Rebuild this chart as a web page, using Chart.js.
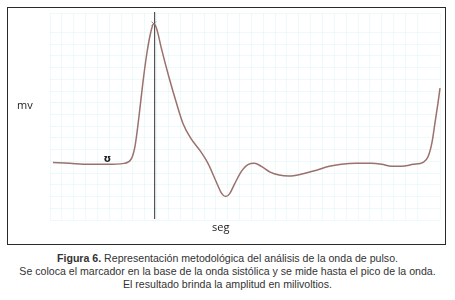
<!DOCTYPE html>
<html>
<head>
<meta charset="utf-8">
<script src="https://cdn.jsdelivr.net/npm/chart.js@4"></script>
<style>
    body { margin: 0; background: #fff; width: 455px; height: 300px; position: relative; overflow: hidden; }
    #box { position: absolute; left: 7px; top: 7px; width: 437px; height: 236px; border: 1px solid #2a2a2a; }
    #box canvas { display: block; }
    .lbl { position: absolute; font-family: 'Open Sans', 'DejaVu Sans', sans-serif; font-size: 11px; color: #222; }
    #caption { position: absolute; left: 0; top: 252px; width: 455px; text-align: center;
               font-family: 'Liberation Sans', Arial, sans-serif; font-size: 10.6px; line-height: 13px; color: #333; }
</style>
</head>
<body>
<div id="box"><canvas id="pulseChart" width="437" height="236"></canvas></div>
<div class="lbl" style="left:17px; top:97px;">mv</div>
<div class="lbl" style="left:212px; top:219px;">seg</div>
<div id="caption">
    <b>Figura 6.</b> Representación metodológica del análisis de la onda de pulso.<br>
    Se coloca el marcador en la base de la onda sistólica y se mide hasta el pico de la onda.<br>
    El resultado brinda la amplitud en milivoltios.
</div>
<script>
// Onda de pulso (tiempo, amplitud)
const TIME = [3, 20, 40, 58, 75, 82, 86, 90, 94, 98, 102, 105, 108, 113, 120, 128, 135, 143, 152, 160,
              168, 174, 178, 182, 187, 194, 201, 207, 214, 223, 232, 242, 255, 270, 283, 295, 310, 325, 336,
              346, 356, 368, 378, 383, 387, 390, 393, 395];
const AMPLITUDE = [59, 58, 57, 57, 58, 62, 75, 105, 140, 170, 192, 201, 196, 175, 148, 120, 98, 83, 71, 58,
                   40, 27, 24, 27, 37, 50, 57, 58, 55, 49, 46, 45, 47, 51, 55, 57, 58, 58, 57,
                   55, 55, 57, 59, 65, 80, 100, 120, 135];

// Marcador en la base, pico y cursor vertical
const MARKER = { x: 58, y: 62 };
const PEAK = { x: 105, y: 201 };
const CURSOR_X = 106;
const CURSOR_Y = [1, 213];

const pulseData = TIME.map((t, i) => ({ x: t, y: AMPLITUDE[i] }));

// Dibuja el símbolo del marcador sobre la curva
const markerPlugin = {
    id: 'markerPlugin',
    afterDatasetsDraw(chart) {
        const { ctx, scales } = chart;
        const px = scales.x.getPixelForValue(MARKER.x);
        const py = scales.y.getPixelForValue(MARKER.y);
        ctx.save();
        ctx.font = 'bold 10px "DejaVu Sans", sans-serif';
        ctx.fillStyle = '#222';
        ctx.textAlign = 'center';
        ctx.textBaseline = 'middle';
        ctx.fillText('ʊ', px, py);
        ctx.restore();
    }
};

new Chart(document.getElementById('pulseChart'), {
    type: 'line',
    data: {
        datasets: [
            {
                data: pulseData,
                borderColor: '#9a716c',
                borderWidth: 1.5,
                pointRadius: 0,
                cubicInterpolationMode: 'monotone',
                fill: false
            },
            {
                data: CURSOR_Y.map(v => ({ x: CURSOR_X, y: v })),
                borderColor: '#333',
                borderWidth: 1,
                pointRadius: 0
            },
            {
                type: 'scatter',
                data: [PEAK],
                pointStyle: 'crossRot',
                pointRadius: 3,
                borderColor: '#888',
                borderWidth: 1
            }
        ]
    },
    options: {
        responsive: false,
        animation: false,
        layout: { padding: { left: 42, right: 0, top: 0, bottom: 24 } },
        plugins: { legend: { display: false }, tooltip: { enabled: false } },
        clip: false,
        scales: {
            x: {
                type: 'linear',
                min: 0,
                max: 395,
                ticks: { display: false, stepSize: 12 },
                grid: { color: 'rgba(200,236,236,0.3)', drawTicks: false },
                border: { display: false }
            },
            y: {
                min: 0,
                max: 212,
                ticks: { display: false, stepSize: 12 },
                grid: { color: 'rgba(200,236,236,0.3)', drawTicks: false },
                border: { display: false }
            }
        }
    },
    plugins: [markerPlugin]
});
</script>
</body>
</html>
